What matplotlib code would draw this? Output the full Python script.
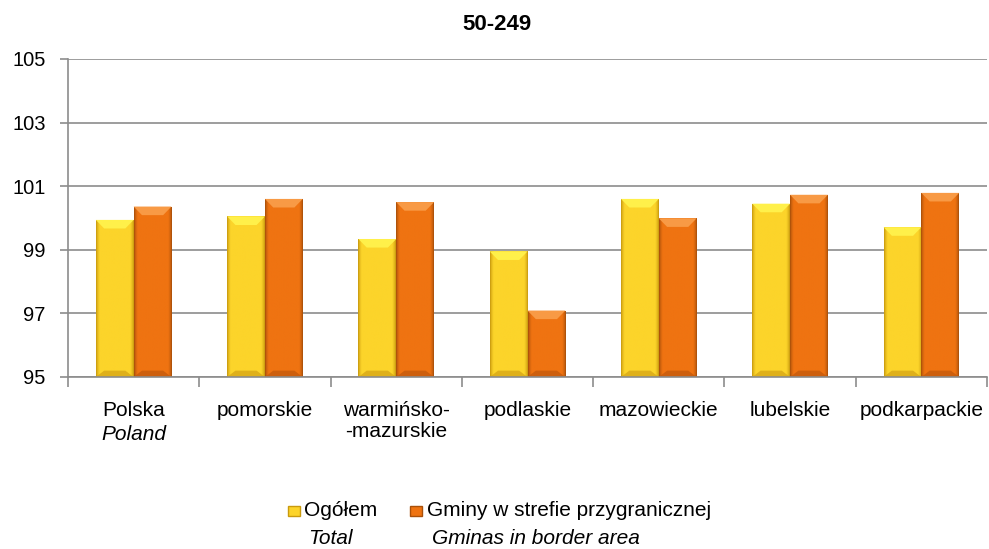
import matplotlib
matplotlib.use("Agg")
import matplotlib.pyplot as plt
import numpy as np
from matplotlib.patches import Rectangle, Polygon
from matplotlib.colors import to_rgb

plt.rcParams['font.family'] = ['Liberation Sans', 'DejaVu Sans']

title = "50-249"
categories = ["Polska", "pomorskie", "warmińsko-\n-mazurskie", "podlaskie",
              "mazowieckie", "lubelskie", "podkarpackie"]
categories_en = ["Poland", "", "", "", "", "", ""]
ogolem = [99.94, 100.05, 99.34, 98.95, 100.60, 100.45, 99.71]
gminy = [100.36, 100.60, 100.50, 97.09, 99.99, 100.73, 100.79]
series_pl = ["Ogółem", "Gminy w strefie przygranicznej"]
series_en = ["Total", "Gminas in border area"]
yticks = [95, 97, 99, 101, 103, 105]

FS = 15
fig = plt.figure(figsize=(9.89, 5.49), dpi=100)
ax = fig.add_axes([68/989, 1-377/549, (987-68)/989, (377-59)/549])

x = np.arange(len(categories))
w = 0.288
cols = ["#FCD42A", "#EF7311"]
darks = ["#C99A0E", "#A9500A"]
caps = ["#FFF04A", "#F89A45"]
bottoms_c = ["#D8A816", "#C55A0C"]

ax.set_ylim(95, 105)
ax.set_xlim(-0.5, len(categories) - 0.5)


def shade(c, d, n=60):
    c = np.array(to_rgb(c)); d = np.array(to_rgb(d))
    t = np.linspace(0, 1, n)
    prof = np.clip(np.minimum(t, 1 - t) / 0.09, 0, 1)
    prof = prof ** 0.7
    row = d[None, :] * (1 - prof[:, None]) + c[None, :] * prof[:, None]
    return row[None, :, :]


for i, (vals, c, d, cap, bc) in enumerate(zip([ogolem, gminy], cols, darks, caps, bottoms_c)):
    xs = x + (i - 0.5) * w
    bars = ax.bar(xs, np.array(vals) - 95, width=w, bottom=95, color=c,
                  edgecolor="none", linewidth=0, zorder=3)
    img = shade(c, d)
    for b, xv, v in zip(bars, xs, vals):
        im = ax.imshow(img, extent=[xv - w/2, xv + w/2, 95, v], aspect="auto",
                       zorder=3.5, interpolation="bilinear")
        im.set_clip_path(b)
        ch = 0.27
        ins = w * 0.22
        ax.add_patch(Polygon([(xv - w/2, v), (xv + w/2, v), (xv + w/2 - ins, v - ch),
                              (xv - w/2 + ins, v - ch)], closed=True,
                             facecolor=cap, edgecolor="none", zorder=4))
        ax.add_patch(Polygon([(xv - w/2, 95), (xv + w/2, 95), (xv + w/2 - ins, 95 + 0.2),
                              (xv - w/2 + ins, 95 + 0.2)], closed=True,
                             facecolor=bc, edgecolor="none", zorder=4, alpha=0.8))

ax.set_yticks(yticks)
ax.set_yticklabels([str(t) for t in yticks], fontsize=14.5)
ax.yaxis.grid(True, color="#8C8C8C", linewidth=1.2, zorder=0)
ax.set_axisbelow(True)
for s in ["top", "right"]:
    ax.spines[s].set_visible(False)
for s in ["left", "bottom"]:
    ax.spines[s].set_color("#8C8C8C")
    ax.spines[s].set_linewidth(1.2)
    ax.spines[s].set_zorder(5)
ax.tick_params(axis="y", length=6, color="#8C8C8C", width=1.2, pad=10)

ax.set_xticks(np.arange(len(categories) + 1) - 0.5)
ax.set_xticklabels([])
ax.tick_params(axis="x", length=7, color="#8C8C8C", width=1.2)
for xi, lab, en in zip(x, categories, categories_en):
    ax.text(xi, -0.077, lab, transform=ax.get_xaxis_transform(), ha="center",
            va="top", fontsize=FS, linespacing=1.1)
    if en:
        ax.text(xi, -0.077 - 0.074, en, transform=ax.get_xaxis_transform(),
                ha="center", va="top", fontsize=FS, style="italic")

fig.text(497 / 989, 1 - 25 / 549, title, ha="center", va="center",
         fontsize=16, fontweight="bold")

leg_mark = [294, 416]
leg_text = [304, 427]
leg_text2 = [308, 432]
for lx, tx, tx2, c, d, pl, en in zip(leg_mark, leg_text, leg_text2, cols, darks,
                                    series_pl, series_en):
    fig.patches.append(Rectangle(((lx - 6) / 989, 1 - 516 / 549), 12/989, 10/549,
                                 transform=fig.transFigure, facecolor=c,
                                 edgecolor=d, linewidth=1.0))
    fig.text(tx / 989, 1 - 511 / 549, pl, ha="left", va="center", fontsize=FS)
    fig.text(tx2 / 989, 1 - 539 / 549, en, ha="left", va="center",
             fontsize=FS, style="italic")

fig.savefig("out.png", dpi=100)
